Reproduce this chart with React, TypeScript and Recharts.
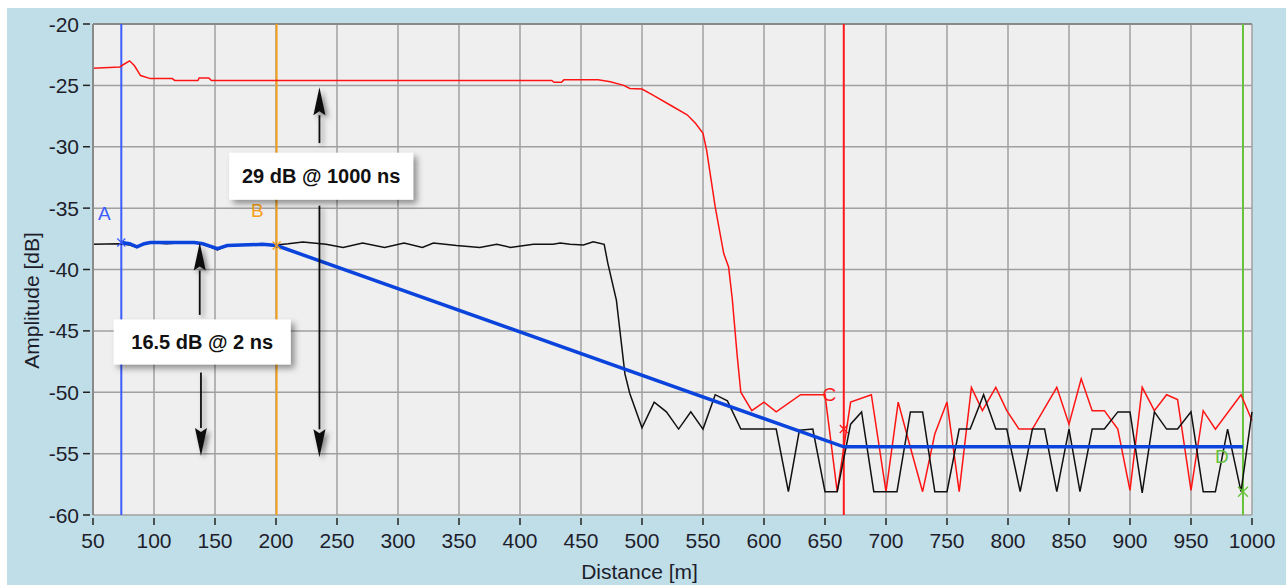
import React from 'react';
import {
  LineChart,
  Line,
  XAxis,
  YAxis,
  CartesianGrid,
  ReferenceLine,
  ReferenceDot,
} from 'recharts';

// black trace (2 ns)
const blackDist = [
  50, 72, 80, 86, 92, 97, 110, 133, 140, 152, 160, 175, 189, 200, 210, 222, 241, 255, 271, 289,
  305, 320, 329, 348, 367, 381, 392, 411, 427, 433, 441, 452, 460, 469, 472, 479, 486, 490, 500,
  510, 520, 530, 540, 550, 560, 570, 581, 610, 620, 629, 640, 650, 660, 671, 680, 690, 709, 720,
  730, 740, 750, 760, 769, 780, 790, 799, 810, 820, 830, 840, 850, 859, 869, 879, 890, 900, 910,
  920, 930, 939, 950, 960, 970, 980, 991, 1000,
];
const blackAmp = [
  -37.95, -37.9, -38.0, -38.2, -37.9, -37.8, -37.9, -37.75, -37.9, -38.4, -38.05, -38.0, -37.95,
  -38.0, -37.9, -37.75, -37.95, -38.2, -37.85, -38.2, -37.85, -38.2, -37.85, -38.05, -38.2,
  -37.95, -38.2, -37.95, -37.95, -37.85, -37.95, -38.0, -37.75, -37.95, -39.5, -42.5, -48.5,
  -50.1, -52.9, -50.8, -51.6, -53.0, -51.6, -53.0, -50.2, -50.7, -53.0, -53.0, -58.1, -53.1,
  -53.0, -58.1, -58.1, -52.6, -51.6, -58.1, -58.1, -51.6, -51.6, -58.1, -58.1, -53.0, -53.0,
  -50.2, -53.0, -53.0, -58.1, -53.0, -53.0, -58.1, -53.0, -58.1, -53.0, -53.0, -51.6, -51.6,
  -58.2, -51.6, -53.0, -53.0, -51.6, -58.1, -58.1, -53.0, -58.1, -51.6,
];

// red trace (1000 ns)
const redDist = [
  50, 72, 75, 80, 84, 89, 97, 115, 117, 136, 137, 145, 147, 426, 428, 434, 436, 464, 474, 485,
  490, 500, 509, 523, 537, 544, 550, 553, 560, 567, 571, 574, 578, 581, 590, 600, 610, 630, 650,
  660, 671, 688, 700, 710, 720, 730, 740, 750, 760, 770, 779, 790, 799, 809, 820, 840, 850, 860,
  869, 879, 890, 900, 910, 920, 930, 939, 950, 960, 970, 991, 1000,
];
const redAmp = [
  -23.6, -23.5, -23.3, -23.0, -23.4, -24.2, -24.45, -24.45, -24.6, -24.6, -24.4, -24.4, -24.6,
  -24.6, -24.75, -24.75, -24.55, -24.55, -24.7, -25.0, -25.25, -25.3, -25.8, -26.6, -27.4, -28.1,
  -28.9, -30.3, -34.9, -38.7, -39.8, -42.4, -47.0, -50.0, -51.5, -50.8, -51.6, -50.2, -50.2,
  -58.1, -50.8, -50.2, -58.1, -50.8, -54.5, -58.1, -53.4, -50.8, -58.1, -49.6, -51.5, -49.6,
  -51.5, -53.0, -53.0, -49.6, -52.6, -48.9, -51.5, -51.5, -53.0, -58.0, -49.6, -51.5, -50.2,
  -50.6, -58.0, -51.5, -53.0, -50.2, -52.3,
];

// blue fitted attenuation line
const blueDist = [73.2, 80, 86, 92, 97, 133, 140, 152, 160, 189, 200.5, 665.4, 992.6];
const blueAmp = [-37.8, -37.9, -38.15, -37.9, -37.8, -37.8, -37.9, -38.3, -38.05, -37.95, -38.05, -54.45, -54.45];

const xTicks = [
  50, 100, 150, 200, 250, 300, 350, 400, 450, 500, 550, 600, 650, 700, 750, 800, 850, 900, 950, 1000,
];
const yTicks = [-60, -55, -50, -45, -40, -35, -30, -25, -20];

// cursors
const cursorNames = ['A', 'B', 'C', 'D'];
const cursorDist = [73.2, 200.5, 665.4, 992.6];
const cursorAmp = [-37.8, -38.05, -53.0, -58.1];
const cursorLabelDist = [59.4, 184.7, 653.5, 975.4];
const cursorLabelAmp = [-35.45, -35.2, -50.2, -55.2];

// measurement notes
const noteText = ['29 dB @ 1000 ns', '16.5 dB @ 2 ns'];
const noteDist = [237, 139.5];
const noteAmp = [-32.4, -45.9];

// measurement arrows: tip and tail amplitude
const arrowDist = [235.6, 235.6, 137.5, 138.5];
const arrowTip = [-25.15, -55.3, -37.8, -55.2];
const arrowTail = [-29.7, -34.8, -43.7, -48.4];

const zip = (d: number[], a: number[]) => d.map((x, i) => ({ d: x, v: a[i] }));
const blackData = zip(blackDist, blackAmp);
const redData = zip(redDist, redAmp);
const blueData = zip(blueDist, blueAmp);

const FONT = '"Liberation Sans", Arial, sans-serif';
const TEXT = '#1d1d2b';
const cursorColors = ['#3b5cff', '#f5a01a', '#ff1a1a', '#66c23a'];
const noteW = [184, 177];
const noteH = [47, 45];

const XTick = (props: any) => {
  const { x, y, payload } = props;
  return (
    <g>
      <line x1={x} x2={x} y1={y + 3} y2={y + 10} stroke='#222' strokeWidth={1.5} />
      <text x={x} y={y + 33} textAnchor='middle' fontSize={21} fill={TEXT} fontFamily={FONT}>
        {payload.value}
      </text>
    </g>
  );
};

const YTick = (props: any) => {
  const { x, y, payload } = props;
  return (
    <g>
      <line x1={x - 10} x2={x - 3} y1={y} y2={y} stroke='#222' strokeWidth={1.5} />
      <text x={x - 14} y={y + 7.5} textAnchor='end' fontSize={21} fill={TEXT} fontFamily={FONT}>
        {payload.value}
      </text>
    </g>
  );
};

const XLabel = (props: any) => {
  const vb = props.viewBox || { x: 86, y: 507, width: 1159, height: 70 };
  return (
    <text x={vb.x + vb.width / 2 - 33} y={vb.y + 64} textAnchor='middle' fontSize={21} fill={TEXT} fontFamily={FONT}>
      Distance [m]
    </text>
  );
};

const YLabel = (props: any) => {
  const vb = props.viewBox || { x: 0, y: 16, width: 86, height: 491 };
  const cx = vb.x + 24;
  const cy = vb.y + vb.height / 2 + 31;
  return (
    <text
      x={cx}
      y={cy}
      transform={`rotate(-90 ${cx} ${cy})`}
      textAnchor='middle'
      dominantBaseline='central'
      fontSize={21}
      fill={TEXT}
      fontFamily={FONT}
    >
      Amplitude [dB]
    </text>
  );
};

const arrowShape = (id: string) => (props: any) => {
  const { x1, y1, x2, y2 } = props;
  const dir = Math.sign(y2 - y1);
  const base = y1 + dir * 28;
  return (
    <g>
      <defs>
        <filter id={id} x='-300%' y='-20%' width='700%' height='140%'>
          <feDropShadow dx='3' dy='3' stdDeviation='2.5' floodColor='#000' floodOpacity='0.45' />
        </filter>
      </defs>
      <g filter={`url(#${id})`}>
        <line x1={x1} y1={base} x2={x2} y2={y2} stroke='#111' strokeWidth={1.8} />
        <path d={`M${x1},${y1} L${x1 - 6},${base} L${x1},${base - dir * 4} L${x1 + 6},${base} Z`} fill='#111' />
      </g>
    </g>
  );
};

const noteShape = (i: number) => (props: any) => {
  const { cx, cy } = props;
  const w = noteW[i];
  const h = noteH[i];
  const id = `noteShadow${i}`;
  return (
    <g>
      <defs>
        <filter id={id} x='-10%' y='-30%' width='130%' height='170%'>
          <feDropShadow dx='4' dy='4' stdDeviation='3' floodColor='#000' floodOpacity='0.4' />
        </filter>
      </defs>
      <rect x={cx - w / 2} y={cy - h / 2} width={w} height={h} fill='#fff' filter={`url(#${id})`} />
      <text x={cx} y={cy + 7} textAnchor='middle' fontWeight='bold' fontSize={20} fill='#111' fontFamily={FONT}>
        {noteText[i]}
      </text>
    </g>
  );
};

const letterShape = (i: number) => (props: any) => (
  <text
    x={props.cx}
    y={props.cy}
    textAnchor='middle'
    dominantBaseline='central'
    fontSize={19}
    fill={cursorColors[i]}
    fontFamily={FONT}
  >
    {cursorNames[i]}
  </text>
);

const crossShape = (i: number) => (props: any) => {
  const { cx, cy } = props;
  const s = i === 3 ? 5 : 4;
  return (
    <path
      d={`M${cx - s},${cy - s} L${cx + s},${cy + s} M${cx + s},${cy - s} L${cx - s},${cy + s}`}
      stroke={cursorColors[i]}
      strokeWidth={1.3}
      fill='none'
    />
  );
};

const TdrChart = () => {
  return (
    <div style={{ position: 'fixed', left: 0, top: 0, width: 1286, height: 585, background: '#fff', overflow: 'hidden' }}>
      <div style={{ position: 'absolute', left: 7, top: 8, width: 1279, height: 577, background: '#c0dee8' }}>
        <LineChart width={1279} height={577} margin={{ top: 16, right: 34, bottom: 0, left: 0 }} style={{ fontFamily: FONT }}>
          <CartesianGrid fill='#efefef' stroke='#a0a0a0' strokeWidth={1.5} />
          <XAxis
            type='number'
            dataKey='d'
            domain={[50, 1000]}
            ticks={xTicks}
            interval={0}
            height={70}
            axisLine={false}
            tickLine={false}
            tickSize={0}
            tickMargin={0}
            tick={<XTick />}
            label={<XLabel />}
          />
          <YAxis
            type='number'
            domain={[-60, -20]}
            ticks={yTicks}
            interval={0}
            width={86}
            axisLine={{ stroke: '#8a8a8a', strokeWidth: 2 }}
            tickLine={false}
            tickSize={0}
            tickMargin={0}
            tick={<YTick />}
            label={<YLabel />}
          />
          <ReferenceLine y={-20} stroke='#8a8a8a' strokeWidth={2} />
          {cursorDist.map((d, i) => (
            <ReferenceLine key={'c' + i} x={d} stroke={cursorColors[i]} strokeWidth={2} />
          ))}
          <Line data={redData} dataKey='v' type='linear' stroke='#ff1414' strokeWidth={1.5} dot={false} isAnimationActive={false} />
          <Line data={blackData} dataKey='v' type='linear' stroke='#111' strokeWidth={1.5} dot={false} isAnimationActive={false} />
          <Line data={blueData} dataKey='v' type='linear' stroke='#0a44dc' strokeWidth={3.5} dot={false} isAnimationActive={false} />
          {cursorDist.map((d, i) => (
            <ReferenceDot key={'x' + i} x={d} y={cursorAmp[i]} r={4} shape={crossShape(i)} />
          ))}
          {cursorLabelDist.map((d, i) => (
            <ReferenceDot key={'l' + i} x={d} y={cursorLabelAmp[i]} r={4} shape={letterShape(i)} />
          ))}
          {arrowDist.map((d, i) => (
            <ReferenceLine
              key={'a' + i}
              segment={[
                { x: d, y: arrowTip[i] },
                { x: d, y: arrowTail[i] },
              ]}
              shape={arrowShape('arrowShadow' + i)}
            />
          ))}
          {noteDist.map((d, i) => (
            <ReferenceDot key={'n' + i} x={d} y={noteAmp[i]} r={4} shape={noteShape(i)} />
          ))}
        </LineChart>
      </div>
    </div>
  );
};

export default function App() {
  return <TdrChart />;
}
